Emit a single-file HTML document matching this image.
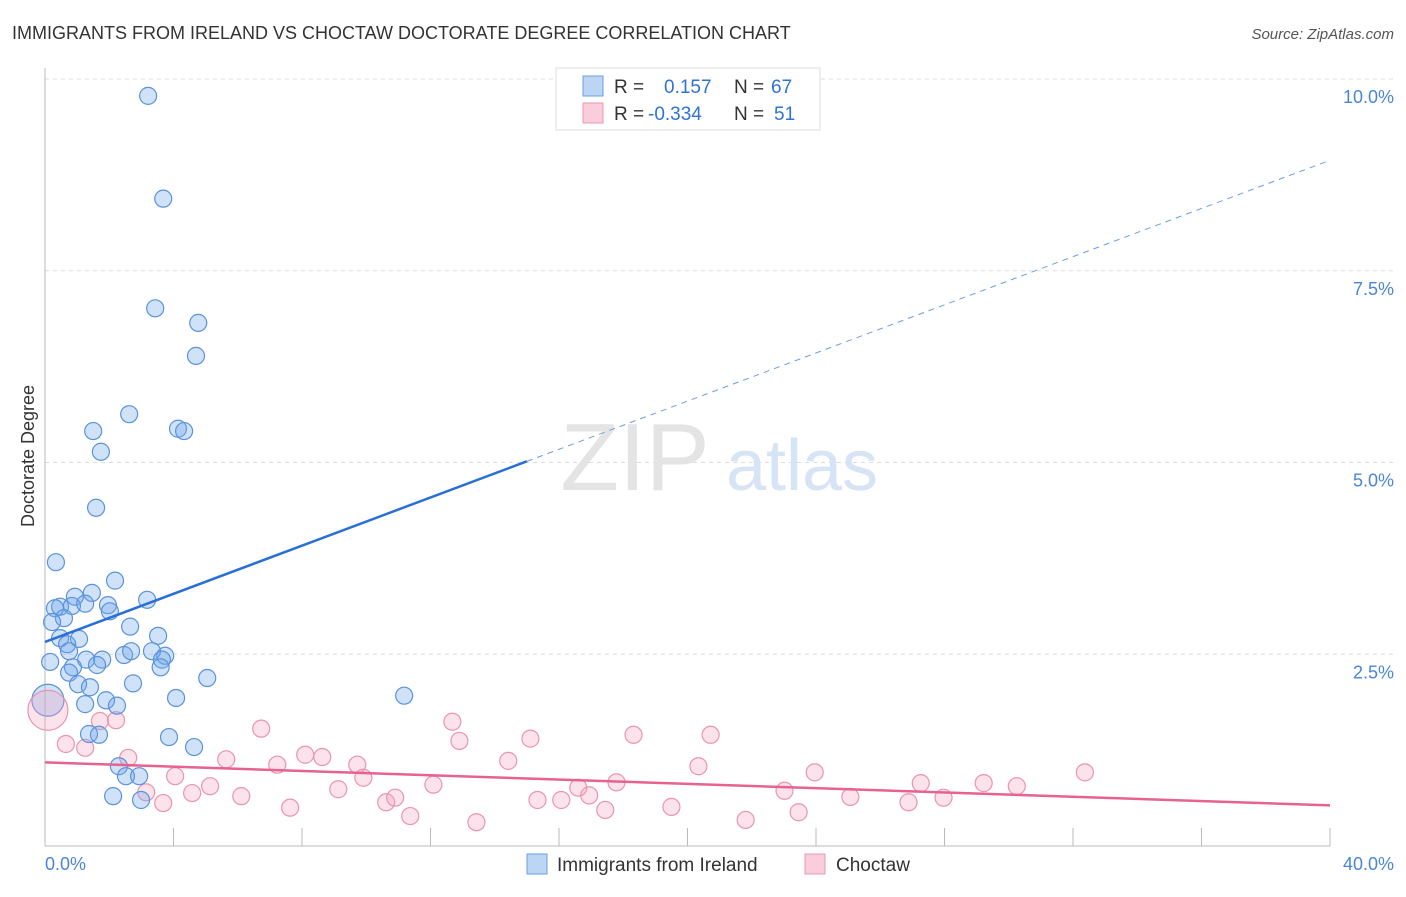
<!DOCTYPE html>
<html><head><meta charset="utf-8"><style>
body{margin:0;background:#fff;font-family:"Liberation Sans",sans-serif;}
svg text{font-family:"Liberation Sans",sans-serif;}
</style></head><body>
<svg id="chart" width="1406" height="892">
<text x="12" y="39" font-size="18" fill="#333">IMMIGRANTS FROM IRELAND VS CHOCTAW DOCTORATE DEGREE CORRELATION CHART</text>
<text x="1394" y="39" font-size="15" fill="#555" font-style="italic" text-anchor="end">Source: ZipAtlas.com</text>
<g id="grid"></g>
<g id="watermark">
<text x="635" y="490" font-size="96" fill="#e4e4e4" font-family="Liberation Serif" text-anchor="middle">ZIP</text>
<text x="802" y="490" font-size="72" fill="#d6e4f5" text-anchor="middle">atlas</text>
</g>
<text x="34" y="456" font-size="18" fill="#333" text-anchor="middle" transform="rotate(-90 34 456)">Doctorate Degree</text>
<g id="marks"></g>
<g id="lines"></g>
<g>
<rect x="556" y="68" width="264" height="62" fill="#fff" stroke="#ddd"/>
<rect x="583" y="76" width="20" height="20" fill="#bcd5f5" stroke="#6a9ee0"/>
<rect x="583" y="103" width="20" height="20" fill="#f9cddb" stroke="#ec98b2"/>
<text x="614" y="93" font-size="19" fill="#333">R =</text>
<text x="664" y="93" font-size="19" fill="#2f73d4">0.157</text>
<text x="734" y="93" font-size="19" fill="#333">N =</text>
<text x="771" y="93" font-size="19" fill="#2f73d4">67</text>
<text x="614" y="120" font-size="19" fill="#333">R =</text>
<text x="648" y="120" font-size="19" fill="#2f73d4">-0.334</text>
<text x="734" y="120" font-size="19" fill="#333">N =</text>
<text x="774" y="120" font-size="19" fill="#2f73d4">51</text>
</g>
<g>
<rect x="527" y="854" width="20" height="20" fill="#bcd5f5" stroke="#6a9ee0"/>
<text x="557" y="871" font-size="19" fill="#333">Immigrants from Ireland</text>
<rect x="805" y="854" width="20" height="20" fill="#f9cddb" stroke="#ec98b2"/>
<text x="836" y="871" font-size="19" fill="#333">Choctaw</text>
</g>
</svg>
<script>
const xTicks=[0,4,8,12,16,20,24,28,32,36,40];
const yTicks=[2.5,5,7.5,10];
const yTickLabels=["2.5%","5.0%","7.5%","10.0%"];
const xEndLabels=["0.0%","40.0%"];
const irelandX=[3.21,3.68,3.43,4.77,4.70,2.62,1.50,4.14,4.33,1.74,1.59,0.34,2.18,1.46,0.93,3.18,0.47,0.84,1.25,1.96,2.02,0.31,0.59,0.22,2.65,3.52,0.47,1.06,0.69,0.75,2.46,2.68,3.33,3.74,3.64,0.16,1.28,1.78,0.87,1.62,3.60,0.75,5.05,2.74,1.03,1.40,4.08,11.18,1.90,1.25,2.24,3.86,1.37,1.68,4.64,2.30,2.52,2.93,2.12,2.99];
const irelandY=[9.78,8.44,7.01,6.82,6.39,5.63,5.41,5.44,5.41,5.14,4.41,3.70,3.46,3.30,3.25,3.21,3.12,3.13,3.16,3.14,3.06,3.10,2.97,2.92,2.86,2.74,2.71,2.70,2.63,2.54,2.49,2.54,2.54,2.48,2.43,2.40,2.43,2.43,2.33,2.36,2.33,2.26,2.19,2.12,2.11,2.07,1.93,1.96,1.90,1.85,1.83,1.42,1.46,1.45,1.29,1.04,0.91,0.91,0.65,0.60];
const choctawX=[0.65,1.25,1.71,2.21,2.59,3.15,3.68,4.05,4.58,5.14,5.64,6.11,6.73,7.23,7.63,8.10,8.63,9.13,9.72,9.91,10.62,10.90,11.37,12.09,12.68,12.90,13.43,14.42,15.11,15.33,16.07,16.60,16.94,17.44,17.79,18.32,19.50,20.34,20.72,21.81,23.02,23.46,23.96,25.07,26.88,27.26,27.97,29.22,30.25,32.37];
const choctawY=[1.33,1.28,1.63,1.64,1.15,0.70,0.56,0.91,0.69,0.78,1.13,0.65,1.53,1.06,0.50,1.19,1.16,0.74,1.06,0.89,0.57,0.63,0.39,0.80,1.62,1.37,0.31,1.11,1.40,0.60,0.60,0.76,0.66,0.47,0.83,1.45,0.51,1.04,1.45,0.34,0.72,0.44,0.96,0.64,0.57,0.82,0.63,0.82,0.78,0.96];
const bigPoints=[[0.09,1.90,"ireland"],[0.09,1.77,"choctaw"]];
const irelandTrend=[2.66,8.94];
const choctawTrend=[1.09,0.53];
const irelandSolidEnd=15;
const NS="http://www.w3.org/2000/svg";
const X=v=>45+v*32.125, Y=v=>846-v*76.7;
const svg=document.getElementById('chart');
const grid=document.getElementById('grid'),marks=document.getElementById('marks'),lines=document.getElementById('lines');
function mk(tag,attrs,parent){const e=document.createElementNS(NS,tag);for(const k in attrs)e.setAttribute(k,attrs[k]);parent.appendChild(e);return e;}
yTicks.forEach((t,i)=>{
 const g=mk('line',{x1:45,x2:1394,y1:Y(t),y2:Y(t),stroke:'#ddd','stroke-dasharray':'4 4'},grid);
 
 
 const tx=mk('text',{x:1394,y:Y(t)+24,'font-size':18,fill:'#4a86d6','text-anchor':'end'},grid);
 tx.textContent=yTickLabels[i];
 
 
});
const ax=mk('line',{x1:45,x2:45,y1:68,y2:846,stroke:'#bbb'},grid);


const bx=mk('line',{x1:45,x2:1330,y1:846,y2:846,stroke:'#bbb'},grid);


xTicks.forEach(t=>{const l=mk('line',{x1:X(t),x2:X(t),y1:828,y2:846,stroke:'#bbb'},grid);
 
 });
[[0,'start'],[40,'end']].forEach((p,i)=>{const tx=mk('text',{x:i?1394:45,y:870,'font-size':18,fill:'#4a86d6','text-anchor':p[1]},grid);
 tx.textContent=xEndLabels[i];
 
 });
const sty={ireland:{fill:'rgba(110,165,232,0.32)',stroke:'#5a93dc'},choctaw:{fill:'rgba(242,160,188,0.3)',stroke:'#eb94b0'}};
function dot(x,y,s,r){const c=mk('circle',{cx:X(x),cy:Y(y),r:r,fill:sty[s].fill,stroke:sty[s].stroke,'stroke-width':1.2},marks);
 
 }
choctawX.forEach((x,i)=>dot(x,choctawY[i],'choctaw',8.5));
irelandX.forEach((x,i)=>dot(x,irelandY[i],'ireland',8.5));
bigPoints.forEach(p=>dot(p[0],p[1],p[2],p[2]=='choctaw'?20:16));
const it=x=>irelandTrend[0]+(irelandTrend[1]-irelandTrend[0])*x/40;
const l1=mk('line',{x1:X(0),y1:Y(it(0)),x2:X(irelandSolidEnd),y2:Y(it(irelandSolidEnd)),stroke:'#2a6fd6','stroke-width':2.5},lines);


const l2=mk('line',{x1:X(irelandSolidEnd),y1:Y(it(irelandSolidEnd)),x2:X(40),y2:Y(it(40)),stroke:'#6a9ee0','stroke-width':1,'stroke-dasharray':'6 5'},lines);


const l3=mk('line',{x1:X(0),y1:Y(choctawTrend[0]),x2:X(40),y2:Y(choctawTrend[1]),stroke:'#e8628f','stroke-width':2.5},lines);


</script>
</body></html>
